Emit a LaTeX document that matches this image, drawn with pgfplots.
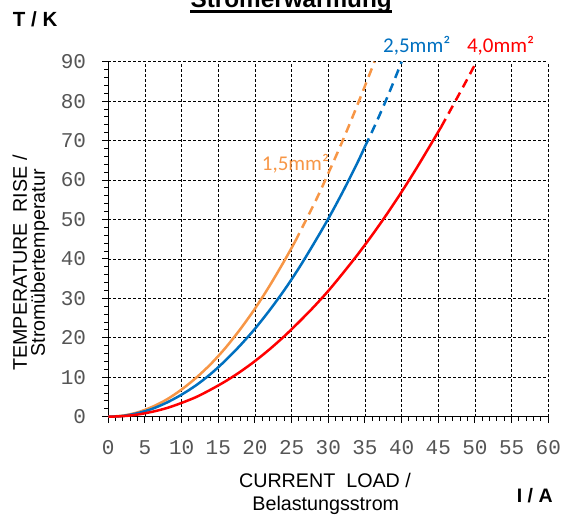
\documentclass[border=0pt]{standalone}
\usepackage{fontspec}
\setmainfont{Liberation Sans}
\setmonofont{Liberation Mono}
\newfontfamily\calibri{Carlito}
\usepackage{pgfplots}
\pgfplotsset{compat=1.18}
\definecolor{corange}{HTML}{F79646}
\definecolor{cblue}{HTML}{0070C0}
\definecolor{cred}{HTML}{FF0000}
\definecolor{tickgray}{HTML}{555555}
\begin{document}
\begin{tikzpicture}
\begin{axis}[
  at={(0,0)}, anchor=south west,
  scale only axis, width=440pt, height=355pt,
  xmin=0, xmax=60, ymin=0, ymax=90,
  xtick={0,5,...,60}, ytick={0,10,...,90},
  minor x tick num=4, minor y tick num=4,
  axis x line=bottom, axis y line=left,
  axis line style={-, line width=1.2pt},
  tick align=outside, major tick length=6pt, minor tick length=4pt,
  every tick/.style={black, line width=1pt},
  grid=major,
  major grid style={black, line width=0.8pt, dash pattern=on 3pt off 2pt},
  /pgf/number format/assume math mode=true,
  tick label style={font=\fontsize{21}{21}\selectfont\ttfamily, text=tickgray},
  yticklabel style={inner sep=0pt, xshift=-16pt},
  xticklabel style={inner sep=0pt, yshift=-18pt},
  clip=false,
]
% 1.5 mm2 (orange)
\addplot[corange, line width=2.5pt, smooth] coordinates {
(0,0)(2,0.27)(4,1.1)(6,2.5)(8,4.4)(10,6.9)(12,9.9)(14,13.4)(16,17.5)(18,22.2)(20,27.4)(22,33.2)(24,39.5)(25.5,44.5)};
\addplot[corange, line width=2.5pt, dash pattern=on 9pt off 6pt, smooth] coordinates {
(25.5,44.5)(27,50)(28.5,55.6)(30,61.7)(31.5,68)(33,74.6)(34.5,81.5)(36.3,90)};
% 2.5 mm2 (blue)
\addplot[cblue, line width=2.5pt, smooth] coordinates {
(0,0)(2,0.2)(4,0.9)(6,2.0)(8,3.6)(10,5.6)(12,8.0)(14,10.9)(16,14.3)(18,18.1)(20,22.3)(22,27.0)(24,32.1)(26,37.7)(28,43.8)(30,50.2)(32,57.1)(34,64.5)(35,68.5)};
\addplot[cblue, line width=2.5pt, dash pattern=on 9pt off 6pt, smooth] coordinates {
(35,68.5)(36,72.4)(37,76.5)(38,80.8)(39,85.3)(40,90)};
% 4.0 mm2 (red)
\addplot[cred, line width=2.5pt, smooth] coordinates {
(0,0)(2,0.14)(4,0.55)(6,1.25)(8,2.2)(10,3.5)(12,5.0)(14,6.9)(16,9.0)(18,11.4)(20,14.1)(22,17.1)(24,20.4)(26,24.0)(28,27.8)(30,31.9)(32,36.4)(34,41.1)(36,46.1)(38,51.4)(40,57.0)(42,62.9)(44,69.1)(45.4,73.5)};
\addplot[cred, line width=2.5pt, dash pattern=on 9pt off 6pt, smooth] coordinates {
(45.4,73.5)(46.5,77.2)(47.5,80.6)(48.9,85.4)(50.2,90)};
\node[anchor=base west, inner sep=0pt, text=corange, font=\calibri\fontsize{21}{21}\selectfont] at (axis cs:20.92,62.3) {1,5mm²};
\node[anchor=base west, inner sep=0pt, text=cblue, font=\calibri\fontsize{21}{21}\selectfont] at (axis cs:37.46,92.3) {2,5mm²};
\node[anchor=base west, inner sep=0pt, text=cred, font=\calibri\fontsize{21}{21}\selectfont] at (axis cs:48.9,92.3) {4,0mm²};
\end{axis}
% title (cut off at top, as in the reference)
\node[anchor=base, inner sep=0pt, font=\bfseries\fontsize{24.3}{24}\selectfont] (t) at (182.9pt,409.4pt) {Stromerwärmung};
\draw[line width=2.6pt] ([yshift=-4.2pt]t.base west) -- ([yshift=-4.2pt]t.base east);
\node[anchor=base west, inner sep=0pt, font=\bfseries\fontsize{20.5}{20}\selectfont] at (-95.6pt,390pt) {T / K};
\node[anchor=base west, inner sep=0pt, font=\bfseries\fontsize{19.5}{20}\selectfont] at (408.4pt,-86pt) {I / A};
\node[anchor=base, inner sep=0pt, font=\fontsize{19.7}{20}\selectfont] at (216.7pt,-70.6pt) {CURRENT\ \ LOAD /};
\node[anchor=base, inner sep=0pt, font=\fontsize{19.7}{20}\selectfont] at (217.5pt,-93.3pt) {Belastungsstrom};
\node[anchor=base, inner sep=0pt, rotate=90, font=\fontsize{19.7}{20}\selectfont] at (-81.3pt,153.7pt) {TEMPERATURE\ \ RISE /};
\node[anchor=base, inner sep=0pt, rotate=90, font=\fontsize{19.7}{20}\selectfont] at (-63.3pt,153.7pt) {Stromübertemperatur};
\pgfresetboundingbox
\path[use as bounding box] (-108.3pt,-100.3pt) rectangle (453.7pt,416.7pt);
\end{tikzpicture}
\end{document}
